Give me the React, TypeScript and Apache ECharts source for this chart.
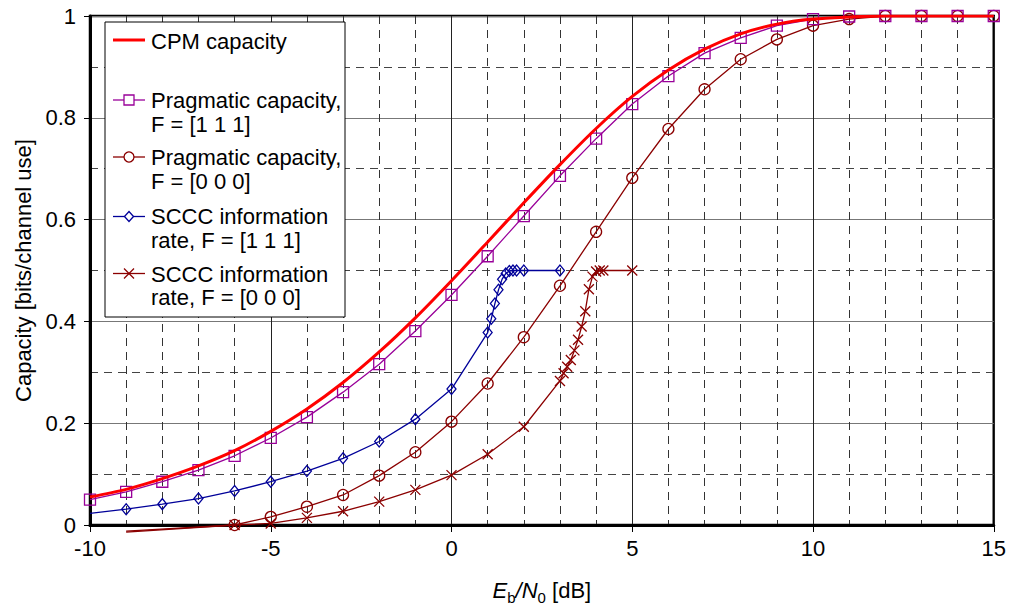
import { useEffect, useRef } from "react";
import * as echarts from "echarts";

// ---------- data ----------
const cpmX = [-10, -9, -8, -7, -6, -5, -4, -3, -2, -1, 0, 1, 2, 3, 4, 5, 6, 7, 8, 9, 10, 11, 12, 13, 14, 15];
const cpmY = [0.055, 0.07, 0.091, 0.116, 0.146, 0.184, 0.228, 0.28, 0.34, 0.407, 0.48, 0.556, 0.633, 0.708, 0.779, 0.842, 0.894, 0.935, 0.965, 0.984, 0.994, 0.998, 1, 1, 1, 1];

const prag111X = [-10, -9, -8, -7, -6, -5, -4, -3, -2, -1, 0, 1, 2, 3, 4, 5, 6, 7, 8, 9, 10, 11, 12, 13, 14, 15];
const prag111Y = [0.05, 0.065, 0.085, 0.108, 0.136, 0.171, 0.212, 0.261, 0.316, 0.381, 0.452, 0.528, 0.607, 0.686, 0.759, 0.827, 0.882, 0.927, 0.957, 0.981, 0.994, 0.999, 1, 1, 1, 1];

const prag000X = [-9, -6, -5, -4, -3, -2, -1, 0, 1, 2, 3, 4, 5, 6, 7, 8, 9, 10, 11, 12, 13, 14, 15];
const prag000Y = [-0.014, 0, 0.016, 0.036, 0.059, 0.097, 0.143, 0.203, 0.278, 0.369, 0.47, 0.576, 0.682, 0.778, 0.856, 0.915, 0.954, 0.981, 0.994, 1, 1, 1, 1];

const sccc111X = [-10, -9, -8, -7, -6, -5, -4, -3, -2, -1, 0, 1, 1.1, 1.2, 1.3, 1.4, 1.5, 1.6, 1.7, 1.8, 2, 3];
const sccc111Y = [0.023, 0.031, 0.041, 0.052, 0.067, 0.085, 0.106, 0.131, 0.164, 0.208, 0.267, 0.378, 0.405, 0.435, 0.462, 0.483, 0.494, 0.499, 0.5, 0.5, 0.5, 0.5];

const sccc000X = [-9, -6, -5, -4, -3, -2, -1, 0, 1, 2, 3, 3.1, 3.2, 3.3, 3.4, 3.5, 3.6, 3.7, 3.8, 3.9, 4.0, 4.1, 4.2, 5];
const sccc000Y = [-0.012, 0, 0.003, 0.014, 0.027, 0.046, 0.069, 0.098, 0.139, 0.193, 0.283, 0.298, 0.311, 0.324, 0.343, 0.364, 0.39, 0.42, 0.463, 0.488, 0.498, 0.5, 0.5, 0.5];

const xTicks = { min: -10, max: 15, step: 5 };
const yTicks = { min: 0, max: 1, step: 0.2 };

const legendNames = [
  ["CPM capacity"],
  ["Pragmatic capacity,", "F = [1 1 1]"],
  ["Pragmatic capacity,", "F = [0 0 0]"],
  ["SCCC information", "rate, F = [1 1 1]"],
  ["SCCC information", "rate, F = [0 0 0]"],
];

// ---------- styles ----------
const FONT = "Liberation Sans, Arial, sans-serif";
const RED = "#ff0000";
const PURPLE = "#990099";
const DARKRED = "#8b0000";
const BLUE = "#000099";
const CROSS = "path://M0,0L10,10M10,0L0,10";

function zip(xs: number[], ys: number[], hideFirst = false) {
  return xs.map((x, i) =>
    hideFirst && i === 0 ? { value: [x, ys[i]], symbol: "none" } : { value: [x, ys[i]] }
  );
}

function markerSeries(name: string, data: any[], color: string, symbol: string, size: any, clip = true) {
  return {
    name,
    type: "line",
    data,
    symbol,
    symbolSize: size,
    showSymbol: true,
    clip,
    lineStyle: { color, width: 1.3 },
    itemStyle: { color: "rgba(255,255,255,0)", borderColor: color, borderWidth: 1.3 },
    z: 3,
  };
}

function buildLegend() {
  const elements: any[] = [];
  const L = 105, T = 22, W = 240, H = 295;
  elements.push({
    type: "rect",
    shape: { x: L, y: T, width: W, height: H },
    style: { fill: "#fff", stroke: "#000", lineWidth: 1 },
    z: 100,
  });
  const rows = [
    { y: 40, lines: legendNames[0], color: RED, width: 3, marker: "none", dy: [41] },
    { y: 100, lines: legendNames[1], color: PURPLE, width: 1.3, marker: "rect", dy: [100, 124] },
    { y: 157, lines: legendNames[2], color: DARKRED, width: 1.3, marker: "circle", dy: [157, 181.5] },
    { y: 216.5, lines: legendNames[3], color: BLUE, width: 1.3, marker: "diamond", dy: [216, 240] },
    { y: 273.5, lines: legendNames[4], color: DARKRED, width: 1.3, marker: "cross", dy: [274, 297.5] },
  ];
  const x1 = 113, x2 = 145, cx = 129;
  rows.forEach((r) => {
    elements.push({
      type: "line",
      shape: { x1, y1: r.y, x2, y2: r.y },
      style: { stroke: r.color, lineWidth: r.width },
      z: 101,
    });
    if (r.marker === "rect") {
      elements.push({
        type: "rect",
        shape: { x: cx - 5, y: r.y - 5, width: 10, height: 10 },
        style: { fill: "#fff", stroke: r.color, lineWidth: 1.3 },
        z: 102,
      });
    } else if (r.marker === "circle") {
      elements.push({
        type: "circle",
        shape: { cx, cy: r.y, r: 5 },
        style: { fill: "#fff", stroke: r.color, lineWidth: 1.3 },
        z: 102,
      });
    } else if (r.marker === "diamond") {
      elements.push({
        type: "polygon",
        shape: { points: [[cx, r.y - 5], [cx + 4.5, r.y], [cx, r.y + 5], [cx - 4.5, r.y]] },
        style: { fill: "#fff", stroke: r.color, lineWidth: 1.3 },
        z: 102,
      });
    } else if (r.marker === "cross") {
      elements.push({
        type: "line",
        shape: { x1: cx - 5, y1: r.y - 5, x2: cx + 5, y2: r.y + 5 },
        style: { stroke: r.color, lineWidth: 1.3 },
        z: 102,
      });
      elements.push({
        type: "line",
        shape: { x1: cx - 5, y1: r.y + 5, x2: cx + 5, y2: r.y - 5 },
        style: { stroke: r.color, lineWidth: 1.3 },
        z: 102,
      });
    }
    r.lines.forEach((t: string, i: number) => {
      elements.push({
        type: "text",
        x: 151,
        y: r.dy[i],
        style: {
          text: t,
          font: `22px ${FONT}`,
          fill: "#000",
          align: "left",
          verticalAlign: "middle",
          textAlign: "left",
          textVerticalAlign: "middle",
        },
        z: 102,
      });
    });
  });
  return elements;
}

export default function App() {
  const ref = useRef<HTMLDivElement>(null);
  useEffect(() => {
    if (!ref.current) return;
    const chart = echarts.init(ref.current, undefined, { renderer: "svg" });
    const option: any = {
      animation: false,
      backgroundColor: "#fff",
      textStyle: { fontFamily: FONT },
      grid: {
        left: 90,
        right: 14,
        top: 16,
        bottom: 85,
        show: true,
        borderColor: "#000",
        borderWidth: 2.5,
        backgroundColor: "rgba(0,0,0,0)",
      },
      xAxis: {
        type: "value",
        min: xTicks.min,
        max: xTicks.max,
        interval: xTicks.step,
        axisLine: { show: true, onZero: false, lineStyle: { color: "#000", width: 3 } },
        axisTick: { show: true, length: 7, lineStyle: { color: "#000", width: 1 } },
        axisLabel: { fontSize: 22, color: "#000", fontFamily: FONT, margin: 12 },
        splitLine: { show: true, lineStyle: { color: "#222", width: 1 } },
        minorTick: { show: false, splitNumber: 5 },
        minorSplitLine: { show: true, lineStyle: { color: "#333", width: 1, type: [8, 6] } },
        name: "{it|E}{sub|b}{it|/N}{sub|0}{n| [dB]}",
        nameLocation: "middle",
        nameGap: 50,
        nameTextStyle: {
          rich: {
            it: { fontSize: 22, fontStyle: "italic", fontFamily: FONT, color: "#000", lineHeight: 30, verticalAlign: "middle" },
            sub: { fontSize: 15, fontFamily: FONT, color: "#000", lineHeight: 15, verticalAlign: "bottom" },
            n: { fontSize: 22, fontFamily: FONT, color: "#000", lineHeight: 30, verticalAlign: "middle" },
          },
        },
      },
      yAxis: {
        type: "value",
        min: yTicks.min,
        max: yTicks.max,
        interval: yTicks.step,
        axisLine: { show: true, onZero: false, lineStyle: { color: "#000", width: 3 } },
        axisTick: { show: true, length: 6, lineStyle: { color: "#000", width: 1 } },
        axisLabel: { fontSize: 22, color: "#000", fontFamily: FONT, margin: 14 },
        splitLine: { show: true, lineStyle: { color: "#777", width: 1 } },
        minorTick: { show: false, splitNumber: 2 },
        minorSplitLine: { show: true, lineStyle: { color: "#444", width: 1, type: [8, 6] } },
        name: "Capacity [bits/channel use]",
        nameLocation: "middle",
        nameGap: 56,
        nameTextStyle: { fontSize: 22, color: "#000", fontFamily: FONT },
      },
      series: [
        markerSeries(legendNames[4].join(" "), zip(sccc000X, sccc000Y, true), DARKRED, CROSS, 10, false),
        markerSeries(legendNames[3].join(" "), zip(sccc111X, sccc111Y, true), BLUE, "diamond", [9, 11]),
        markerSeries(legendNames[2].join(" "), zip(prag000X, prag000Y, true), DARKRED, "circle", 11, false),
        markerSeries(legendNames[1].join(" "), zip(prag111X, prag111Y), PURPLE, "rect", 11),
        {
          name: legendNames[0][0],
          type: "line",
          data: zip(cpmX, cpmY),
          smooth: 0.3,
          showSymbol: false,
          symbol: "none",
          lineStyle: { color: RED, width: 3 },
          itemStyle: { color: RED },
          z: 4,
        },
      ],
      graphic: buildLegend(),
    };
    chart.setOption(option);
    return () => chart.dispose();
  }, []);
  return (
    <div
      ref={ref}
      style={{ position: "absolute", left: 0, top: 0, width: 1009, height: 610 }}
    />
  );
}
